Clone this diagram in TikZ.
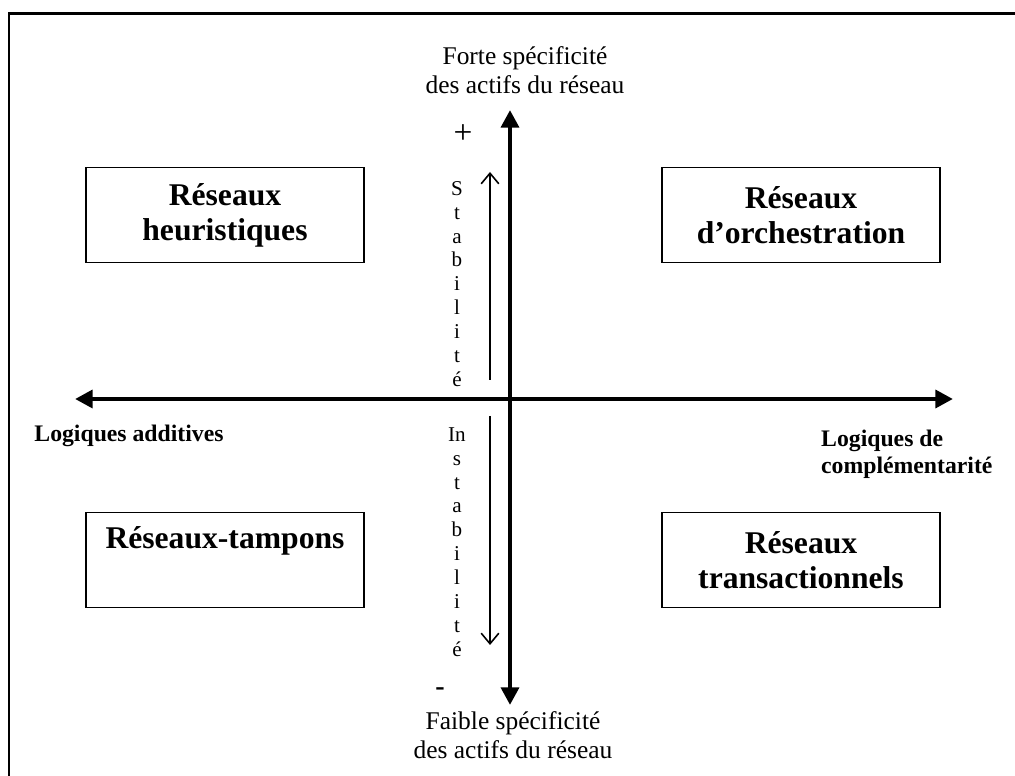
\documentclass[tikz,border=0pt]{standalone}
\usepackage{fontspec}
\setmainfont{Liberation Serif}
\usetikzlibrary{arrows.meta}

\tikzset{
  quadrant/.style={draw,line width=1.1pt,minimum width=5.56cm,minimum height=1.9cm,align=center,font=\fontsize{18}{20}\selectfont\bfseries},
  axis/.style={line width=2.8pt,{Triangle[length=10pt,width=10pt]}-{Triangle[length=10pt,width=10pt]}},
  trend/.style={line width=0.9pt,-{Straight Barb[length=6pt,width=10pt]}},
  vlabel/.style={align=center,font=\fontsize{14.5}{16.5}\selectfont},
  hlabel/.style={font=\fontsize{13.5}{15}\selectfont\bfseries},
  letters/.style={align=center,font=\fontsize{12}{13.6}\selectfont}
}

\begin{document}
\begin{tikzpicture}[x=0.02cm,y=-0.02cm]
\useasboundingbox (0,0) rectangle (1015,776);

% frame
\draw[line width=1.7pt](9,776)--(9,14)--(1015,14);

% axes
\coordinate (north) at (510,110);
\coordinate (south) at (510,705);
\coordinate (west) at (75,399);
\coordinate (east) at (953,399);
\draw[axis](south)--(north);
\draw[axis](west)--(east);

% stability arrows
\coordinate (stab1) at (490,380);
\coordinate (stab2) at (490,172);
\coordinate (inst1) at (490,416);
\coordinate (inst2) at (490,645);
\draw[trend](stab1)--(stab2);
\draw[trend](inst1)--(inst2);

\node[letters] (stab) at (457,284) {S\\t\\a\\b\\i\\l\\i\\t\\é};
\node[letters] (inst) at (457,542) {In\\s\\t\\a\\b\\i\\l\\i\\t\\é};

\node[font=\fontsize{19}{21}\selectfont] (plus) at (463,134) {+};
\node[font=\fontsize{16}{18}\selectfont\bfseries] (minus) at (440,692) {-};

% axis labels
\node[vlabel] (forte) at (525,70) {Forte spécificité\\des actifs du réseau};
\node[vlabel] (faible) at (513,735) {Faible spécificité\\des actifs du réseau};
\node[hlabel] (additive) at (129,436) {Logiques additives};
\node[hlabel,align=left,anchor=north west] (compl) at (815,424) {Logiques de\\complémentarité};

% quadrants
\node[quadrant] (heur) at (225,215) {Réseaux\\heuristiques};
\node[quadrant] (orch) at (801,215) {Réseaux\\d’orchestration};
\node[quadrant] (tamp) at (225,560) {Réseaux-tampons\\ \strut};
\node[quadrant] (trans) at (801,560) {Réseaux\\transactionnels};

\end{tikzpicture}
\end{document}
